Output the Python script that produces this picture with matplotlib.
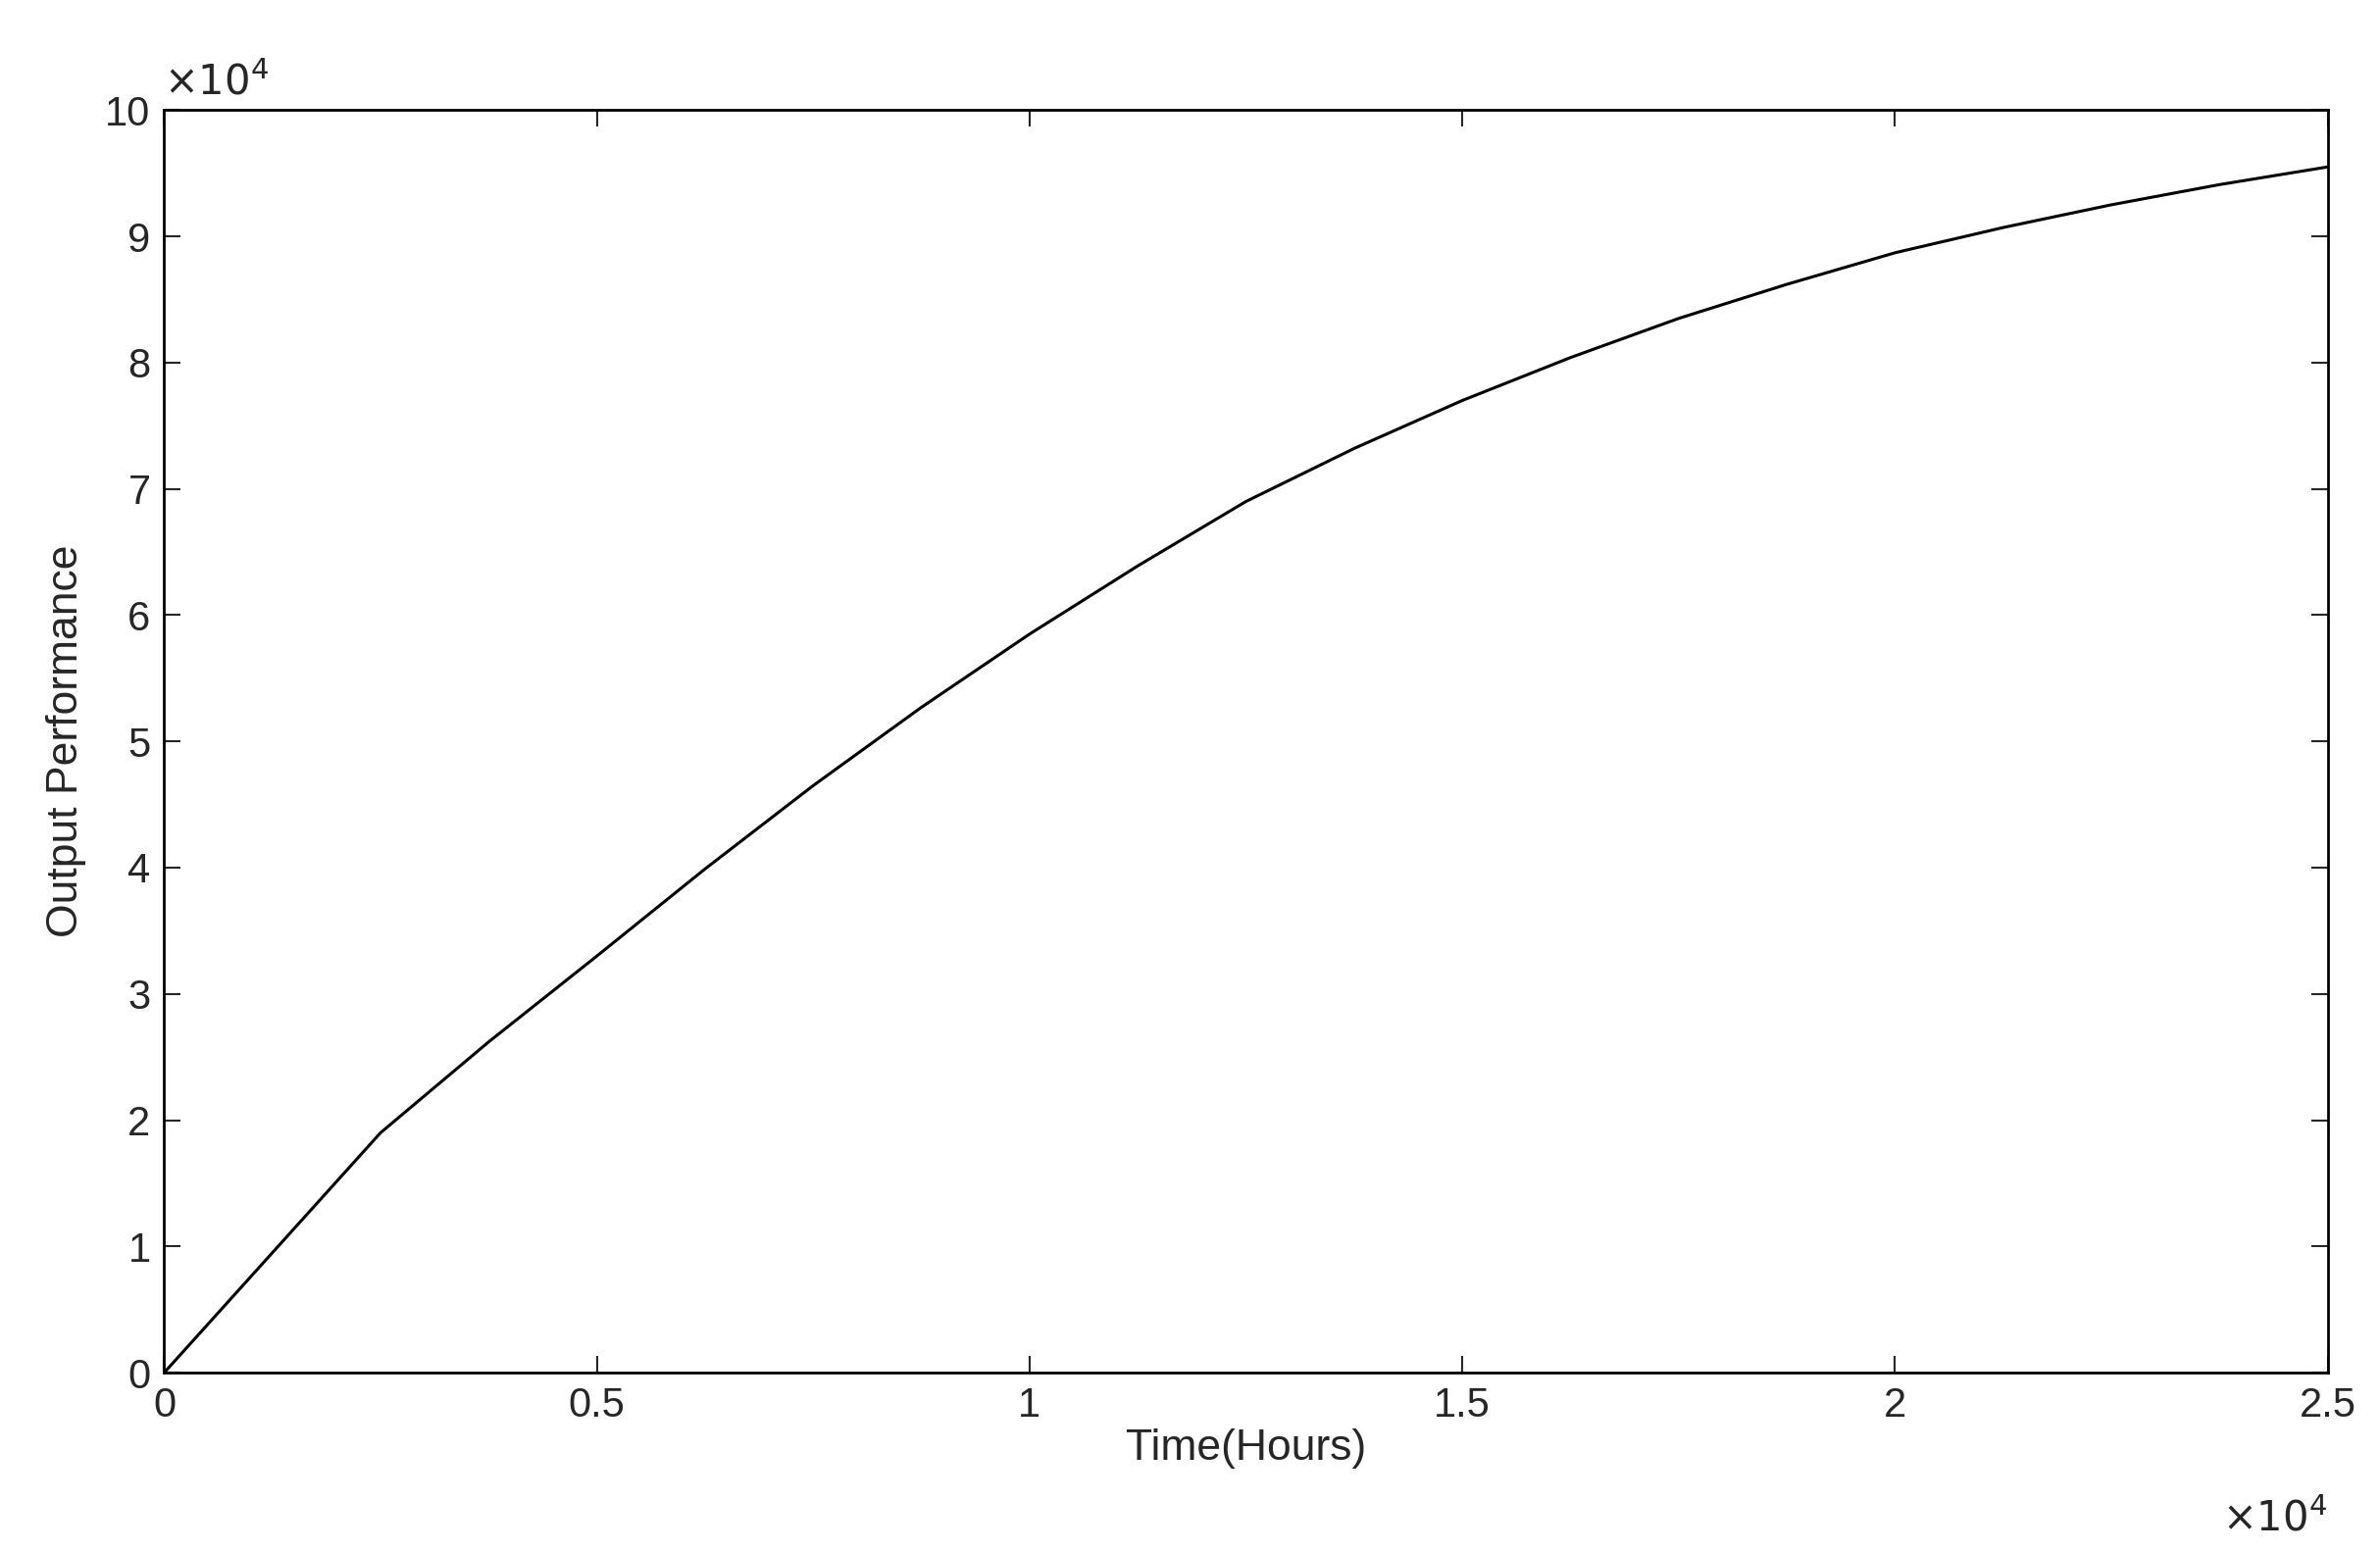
import matplotlib.pyplot as plt
import numpy as np

plt.rcParams["font.family"] = ["Liberation Sans", "DejaVu Sans"]

# time in units of 1e4 hours, output in units of 1e4
time_e4 = [0, 0.125, 0.25, 0.375, 0.5, 0.625, 0.75, 0.875, 1.0, 1.125, 1.25,
           1.375, 1.5, 1.625, 1.75, 1.875, 2.0, 2.125, 2.25, 2.375, 2.5]
output_e4 = [0, 0.95, 1.9, 2.62, 3.3, 3.99, 4.65, 5.27, 5.85, 6.39, 6.9,
             7.32, 7.7, 8.04, 8.35, 8.62, 8.87, 9.07, 9.25, 9.41, 9.55]

fig = plt.figure(figsize=(24.27, 15.82), dpi=100)
ax = fig.add_axes([0.069, 0.115, 0.909, 0.814])
ax.plot(time_e4, output_e4, color="black", linewidth=2.2)
ax.set_xlim(0, 2.5)
ax.set_ylim(0, 10)
ax.set_xticks([0, 0.5, 1, 1.5, 2, 2.5])
ax.set_xticklabels(["0", "0.5", "1", "1.5", "2", "2.5"])
ax.set_yticks(range(0, 11))
ax.tick_params(direction="in", top=True, right=True, length=12, width=1.5,
               labelsize=30, colors="#262626", pad=10)
for s in ax.spines.values():
    s.set_linewidth(2)
ax.set_xlabel("Time(Hours)", fontsize=32, color="#262626", labelpad=2)
ax.set_ylabel("Output Performance", fontsize=32, color="#262626", labelpad=14)
ax.text(0.0, 1.005, r"$\times10^4$", transform=ax.transAxes, fontsize=30,
        color="#262626", va="bottom", ha="left")
ax.text(1.0, -0.1, r"$\times10^4$", transform=ax.transAxes, fontsize=30,
        color="#262626", va="top", ha="right")
fig.savefig("out.png", dpi=100)
